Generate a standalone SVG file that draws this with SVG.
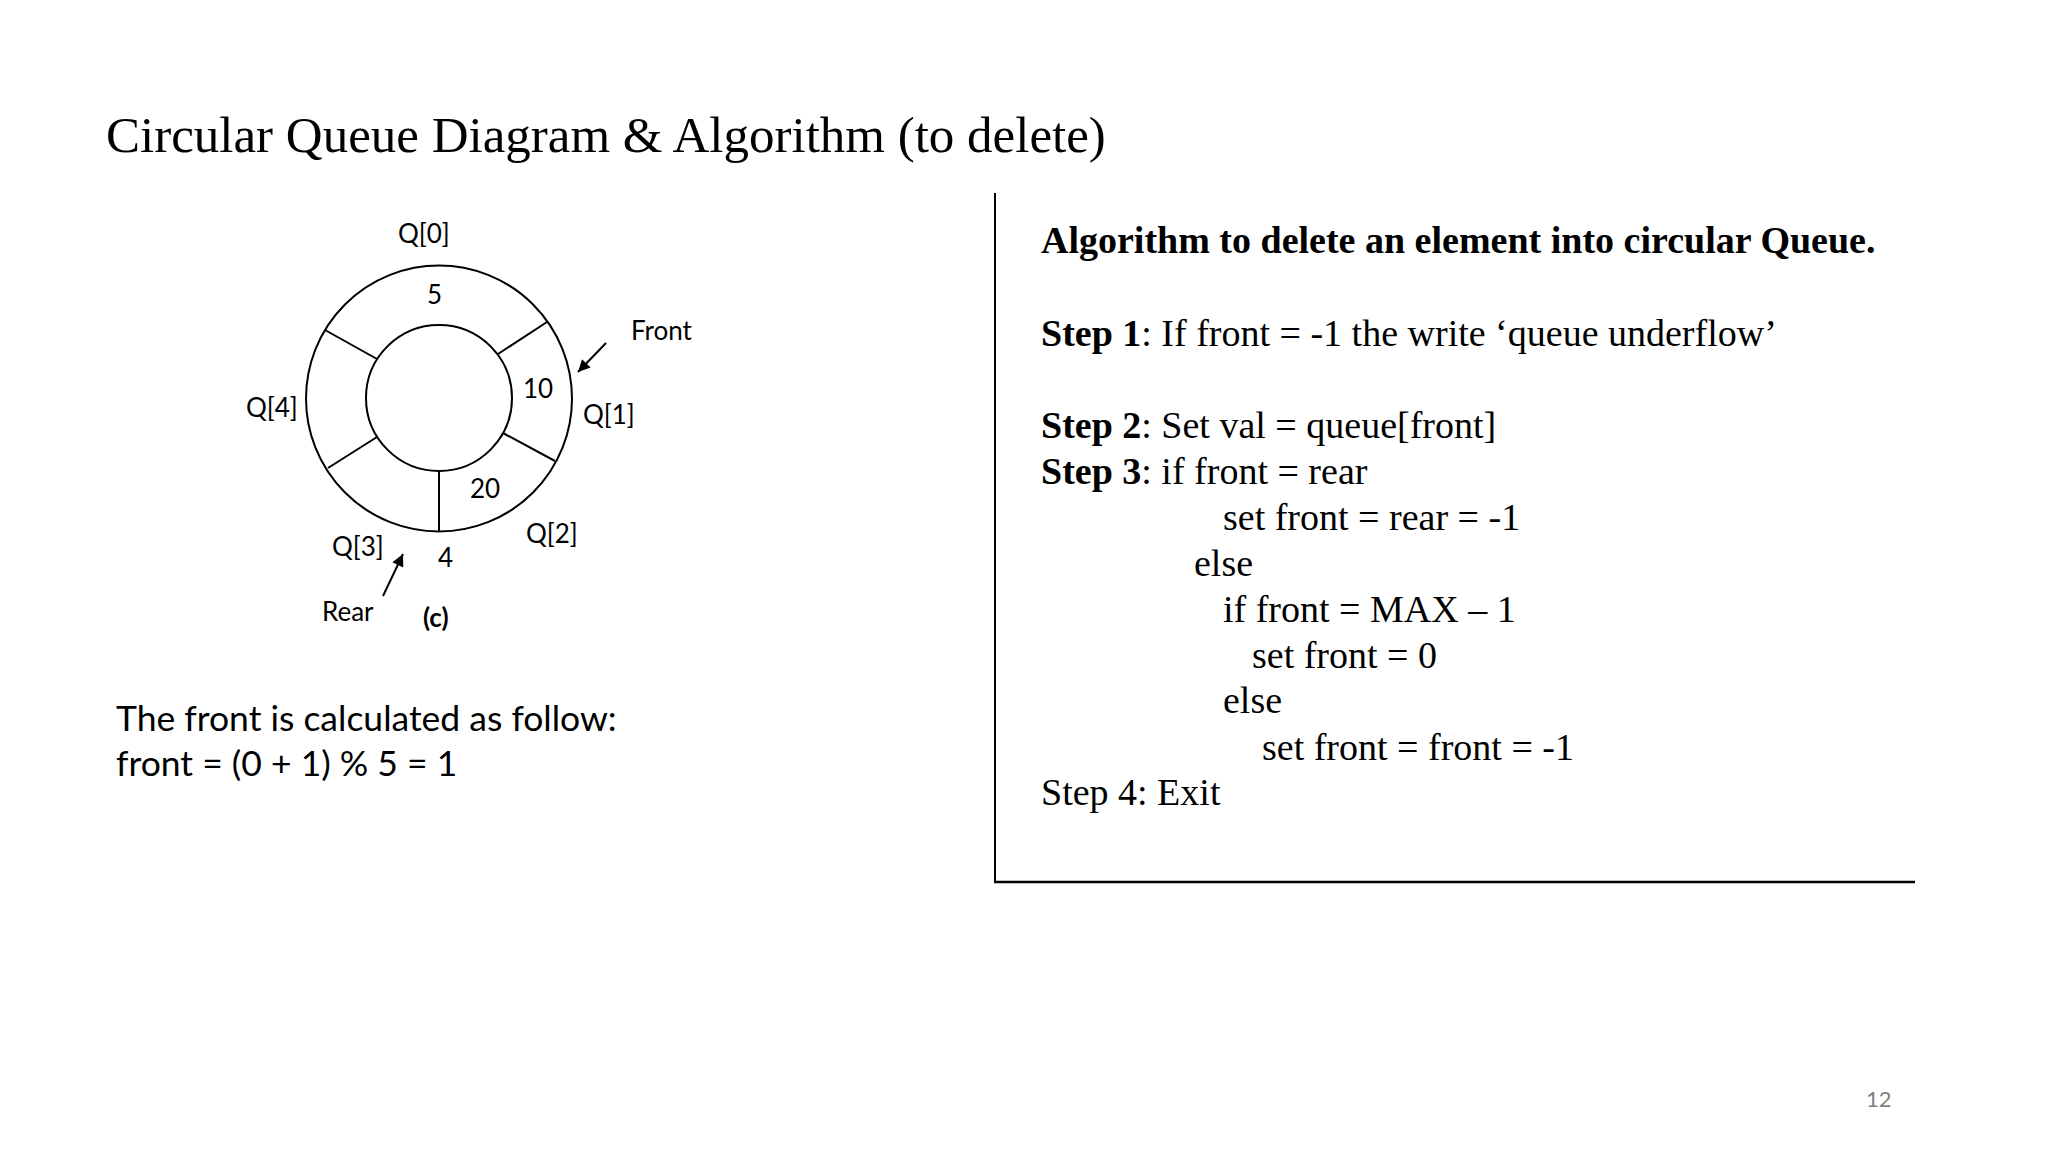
<svg xmlns="http://www.w3.org/2000/svg" width="2048" height="1152" viewBox="0 0 2048 1152">
<style>
.ln{fill:none;stroke:#000;stroke-width:2}
.lbl{font-family:Lato,"Open Sans",sans-serif;font-size:26px;fill:#000}
.tm{font-family:"Liberation Serif","Times New Roman",serif;font-size:38px;fill:#000}
.b{font-weight:bold}
.body{font-family:Lato,"Open Sans",sans-serif;font-size:35.5px;fill:#000}
</style>
<defs>
<marker id="ah" viewBox="0 0 10 10" refX="10" refY="5" markerWidth="6.5" markerHeight="6" orient="auto" markerUnits="strokeWidth">
<path d="M0,0 L10,5 L0,10 z" fill="#000"/>
</marker>
</defs>
<rect width="2048" height="1152" fill="#fff"/>
<text id="title" x="106" y="152" font-family="Liberation Serif,Times New Roman,serif" font-size="51">Circular Queue Diagram &amp; Algorithm (to delete)</text>

<g id="queue-ring">
<circle class="ln" cx="439" cy="398.5" r="133"/>
<circle class="ln" cx="439" cy="398" r="73"/>
<line class="ln" x1="547" y1="322" x2="498" y2="354"/>
<line class="ln" x1="325" y1="330" x2="377" y2="359"/>
<line class="ln" x1="555" y1="461" x2="503" y2="433"/>
<line class="ln" x1="328" y1="468" x2="377" y2="437"/>
<line class="ln" x1="439" y1="472" x2="439" y2="531"/>
</g>
<g id="labels">
<text class="lbl" x="398" y="243">Q[0]</text>
<text class="lbl" x="427" y="304">5</text>
<text class="lbl" x="631" y="340">Front</text>
<text class="lbl" x="523" y="398">10</text>
<text class="lbl" x="246" y="417">Q[4]</text>
<text class="lbl" x="583" y="424">Q[1]</text>
<text class="lbl" x="470" y="498">20</text>
<text class="lbl" x="526" y="543">Q[2]</text>
<text class="lbl" x="332" y="556">Q[3]</text>
<text class="lbl" x="438" y="567">4</text>
<text class="lbl" x="322" y="621">Rear</text>
<text class="lbl b" x="423" y="627">(c)</text>
</g>
<g id="connectors">
<line class="ln" x1="606" y1="343" x2="578" y2="372" marker-end="url(#ah)"/>
<line class="ln" x1="383" y1="596" x2="403" y2="554" marker-end="url(#ah)"/>
</g>

<g id="calc">
<text class="body" x="116" y="731">The front is calculated as follow:</text>
<text class="body" x="116" y="776">front = (0 + 1) % 5 = 1</text>
</g>

<g id="algorithm">
<line x1="995" y1="193" x2="995" y2="883" stroke="#000" stroke-width="2"/>
<line x1="994" y1="882" x2="1915" y2="882" stroke="#000" stroke-width="2.5"/>
<text class="tm b" x="1041" y="253">Algorithm to delete an element into circular Queue.</text>
<text class="tm" x="1041" y="346"><tspan class="b">Step 1</tspan>: If front = -1 the write ‘queue underflow’</text>
<text class="tm" x="1041" y="438"><tspan class="b">Step 2</tspan>: Set val = queue[front]</text>
<text class="tm" x="1041" y="484"><tspan class="b">Step 3</tspan>: if front = rear</text>
<text class="tm" x="1223" y="530">set front = rear = -1</text>
<text class="tm" x="1194" y="576">else</text>
<text class="tm" x="1223" y="622">if front = MAX – 1</text>
<text class="tm" x="1252" y="668">set front = 0</text>
<text class="tm" x="1223" y="713">else</text>
<text class="tm" x="1262" y="760">set front = front = -1</text>
<text class="tm" x="1041" y="805">Step 4: Exit</text>
</g>
<text id="page" x="1866" y="1107" font-family="Lato,Open Sans,sans-serif" font-size="22" fill="#7f7f7f">12</text>
</svg>
